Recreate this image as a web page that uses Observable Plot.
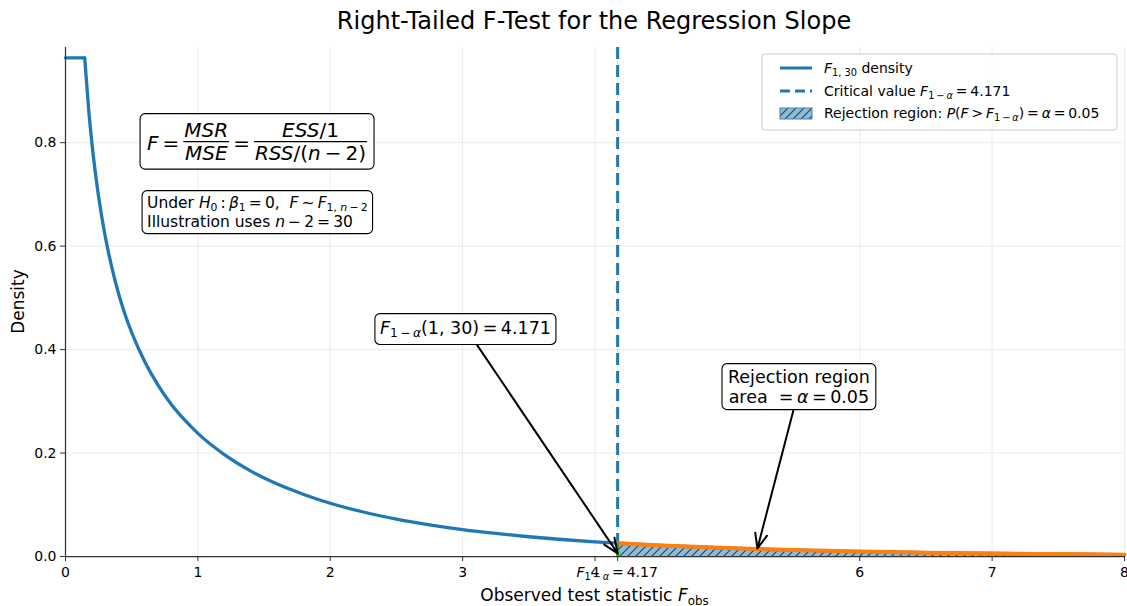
<!DOCTYPE html>
<html><head><meta charset="utf-8">
<script src="https://cdn.jsdelivr.net/npm/d3@7"></script>
<script src="https://cdn.jsdelivr.net/npm/@observablehq/plot@0.6"></script>
<style>
body{margin:0;background:#fff;font-family:"DejaVu Sans",sans-serif;}
#title{width:1066px;padding-left:61px;height:40px;line-height:42px;text-align:center;font-size:24px;color:#000;}
#chart svg{display:block;}
</style></head><body>
<div id="title">Right-Tailed F-Test for the Regression Slope</div>
<div id="chart"></div>
<script>
// ---- data ----
const capX = [0, 0.145];
const capY = [0.964, 0.964];
const densityX = [0.145, 0.175, 0.2, 0.25, 0.3, 0.35, 0.4, 0.45, 0.5, 0.6, 0.7, 0.8, 0.9, 1.0, 1.2, 1.4, 1.6, 1.8, 2.0, 2.25, 2.5, 2.75, 3.0, 3.25, 3.5, 3.75, 4.0, 4.171, 4.5, 5, 5.5, 6, 6.5, 7, 7.5, 8];
const densityY = [0.964, 0.864, 0.798, 0.696, 0.619, 0.559, 0.509, 0.468, 0.433, 0.376, 0.331, 0.294, 0.264, 0.238, 0.197, 0.165, 0.140, 0.120, 0.103, 0.086, 0.0724, 0.0613, 0.0521, 0.0446, 0.0382, 0.0329, 0.0284, 0.0258, 0.0214, 0.0162, 0.0124, 0.0096, 0.0074, 0.0058, 0.0046, 0.0036];
const fCrit = 4.171;
const fCritDensity = 0.0258;
const tailX = [4.171, 4.5, 5, 5.5, 6, 6.5, 7, 7.5, 8];
const tailY = [0.0258, 0.0214, 0.0162, 0.0124, 0.0096, 0.0074, 0.0058, 0.0046, 0.0036];
const xTicks = [0, 1, 2, 3, 4, 4.171, 6, 7, 8];
const xTickLabels = [0, 1, 2, 3, 4, 6, 7, 8];
const yTicks = [0, 0.2, 0.4, 0.6, 0.8];
const xDomain = [0, 8];
const yDomain = [0, 0.984];
// annotation anchors (data coords)
const critLabelPos = [3.025, 0.4415];
const critArrow = {x1: 3.097, y1: 0.4135, x2: 4.171, y2: 0.006};
const rejLabelPos = [5.544, 0.3275];
const rejArrow = {x1: 5.498, y1: 0.282, x2: 5.227, y2: 0.0155};
const formulaPos = [0.62, 0.801];
const h0Pos = [0.62, 0.6657];

const curve = densityX.map((x, i) => ({x, y: densityY[i]}));
const cap = capX.map((x, i) => ({x, y: capY[i]}));
const tail = tailX.map((x, i) => ({x, y: tailY[i]}));

const BLUE = "#1f77b4", ORANGE = "#ff7f0e", GREEN = "#2ca02c";
const FONT = "DejaVu Sans";
const TS = "\u2009"; // thin space

const plot = Plot.plot({
  width: 1127, height: 566,
  marginLeft: 65, marginRight: 3, marginTop: 7, marginBottom: 50,
  x: {domain: xDomain},
  y: {domain: yDomain},
  style: {fontFamily: FONT, fontSize: "14px", color: "#000", background: "#fff", overflow: "visible"},
  marks: [
    Plot.gridX(xTicks, {stroke: "#b0b0b0", strokeOpacity: 0.3, strokeWidth: 0.8}),
    Plot.gridY(yTicks, {stroke: "#b0b0b0", strokeOpacity: 0.3, strokeWidth: 0.8}),
    Plot.areaY(tail, {x: "x", y: "y", fill: "url(#hatch)"}),
    Plot.line(cap, {x: "x", y: "y", stroke: BLUE, strokeWidth: 3.3}),
    Plot.line(curve, {x: "x", y: "y", stroke: BLUE, strokeWidth: 3.3, curve: "monotone-x"}),
    Plot.ruleX([fCrit], {stroke: BLUE, strokeWidth: 3, strokeDasharray: "12,6"}),
    Plot.line(tail, {x: "x", y: "y", stroke: ORANGE, strokeWidth: 4, curve: "monotone-x"}),
    Plot.ruleX([fCrit], {y1: 0, y2: fCritDensity, stroke: GREEN, strokeWidth: 3}),
    Plot.ruleX([0], {stroke: "#333", strokeWidth: 1.25}),
    Plot.ruleY([0], {stroke: "#333", strokeWidth: 1.25}),
    Plot.axisX({ticks: xTicks, tickFormat: () => "", tickSize: 5, label: null, stroke: "#333"}),
    Plot.axisY({ticks: yTicks, tickFormat: () => "", tickSize: 5, label: null, stroke: "#333"}),
    Plot.text(xTickLabels, {x: d => d, y: yDomain[0], text: d => String(d), dy: 16, fontSize: 14, fill: "#000", textAnchor: "middle"}),
    Plot.text(yTicks, {x: xDomain[0], y: d => d, text: d => d3.format(".1f")(d), dx: -9, fontSize: 14, fill: "#000", textAnchor: "end"}),
    Plot.arrow([critArrow, rejArrow], {x1: "x1", y1: "y1", x2: "x2", y2: "y2", stroke: "#000", strokeWidth: 2, headLength: 12, headAngle: 45})
  ]
});
document.getElementById("chart").appendChild(plot);

const svg = d3.select(plot);
const sx = plot.scale("x").apply, sy = plot.scale("y").apply;

// hatch pattern
const defs = svg.insert("defs", ":first-child");
const pat = defs.append("pattern").attr("id", "hatch").attr("patternUnits", "userSpaceOnUse")
  .attr("width", 8).attr("height", 8);
pat.append("rect").attr("width", 8).attr("height", 8).attr("fill", "#8fbbd9");
pat.append("path").attr("d", "M-2,2 L2,-2 M0,8 L8,0 M6,10 L10,6").attr("stroke", "#24435f").attr("stroke-width", 1.1);

function mathLine(parent, x, y, parts, size, anchor = "start") {
  const t = parent.append("text").attr("x", x).attr("y", y)
    .attr("font-size", size).attr("text-anchor", anchor)
    .attr("font-family", FONT).attr("fill", "#000")
    .style("white-space", "pre").style("font-size", size + "px");
  let shift = 0;
  for (const p of parts) {
    const o = typeof p === "string" ? {t: p} : p;
    const target = o.sub ? size * 0.22 : 0;
    const ts = t.append("tspan").text(o.t);
    if (o.i) ts.attr("font-style", "italic");
    if (o.sub) ts.style("font-size", (size * 0.7) + "px");
    if (target !== shift) { ts.attr("dy", target - shift); shift = target; }
  }
  return t;
}
function boxIt(g, padX, padY, stroke = "#000", rx = 5, opacity = 1) {
  const b = g.node().getBBox();
  g.insert("rect", ":first-child")
    .attr("x", b.x - padX).attr("y", b.y - padY)
    .attr("width", b.width + 2 * padX).attr("height", b.height + 2 * padY)
    .attr("rx", rx).attr("fill", "#fff").attr("fill-opacity", opacity)
    .attr("stroke", stroke).attr("stroke-width", 1.1);
}
const I = t => ({t, i: 1});
const S = t => ({t, sub: 1});
const SI = t => ({t, sub: 1, i: 1});

// x-axis special tick label and axis labels
mathLine(svg, sx(fCrit), sy(0) + 21, [I("F"), S("1" + TS + "−" + TS), SI("α"), TS + "=" + TS + "4.17"], 14, "middle");
mathLine(svg, (sx(0) + sx(8)) / 2, sy(0) + 45, ["Observed test statistic ", I("F"), S("obs")], 17, "middle");
svg.append("text").attr("transform", `translate(24,${(sy(0) + sy(yDomain[1])) / 2}) rotate(-90)`)
  .attr("text-anchor", "middle").attr("font-family", FONT).style("font-size", "17px").text("Density");

// critical value annotation
{
  const g = svg.append("g");
  mathLine(g, sx(critLabelPos[0]), sy(critLabelPos[1]) + 6, [I("F"), S("1" + TS + "−" + TS), SI("α"), "(1, 30)" + TS + "=" + TS + "4.171"], 17.5, "middle");
  boxIt(g, 5, 4);
}
// rejection annotation
{
  const g = svg.append("g");
  const cx = sx(rejLabelPos[0]), cy = sy(rejLabelPos[1]);
  mathLine(g, cx, cy - 4, ["Rejection region"], 17.5, "middle");
  mathLine(g, cx, cy + 16, ["area  =" + TS, I("α"), TS + "=" + TS + "0.05"], 17.5, "middle");
  boxIt(g, 6, 3);
}
// H0 box
{
  const g = svg.append("g");
  const x0 = sx(h0Pos[0]), cy = sy(h0Pos[1]);
  mathLine(g, x0, cy - 4, ["Under ", I("H"), S("0"), TS + ":" + TS, I("β"), S("1"), TS + "=" + TS + "0,  ", I("F"), TS + "~" + TS, I("F"), S("1, "), SI("n"), S(TS + "−" + TS + "2")], 15.5, "start");
  mathLine(g, x0, cy + 15, ["Illustration uses ", I("n"), TS + "−" + TS + "2" + TS + "=" + TS + "30"], 15.5, "start");
  boxIt(g, 5, 3);
}
// formula box with fractions
{
  const g = svg.append("g");
  const size = 20;
  let x = sx(formulaPos[0]);
  const bar = sy(formulaPos[1]);
  const base = bar + 8;
  const piece = (parts) => {
    const t = mathLine(g, x, base, parts, size, "start");
    x += t.node().getComputedTextLength();
  };
  const frac = (num, den) => {
    const n = mathLine(g, 0, bar - 5, num, size, "middle");
    const d = mathLine(g, 0, bar + 18.5, den, size, "middle");
    const w = Math.max(n.node().getComputedTextLength(), d.node().getComputedTextLength()) + 2;
    const c = x + w / 2;
    n.attr("x", c); d.attr("x", c);
    g.append("line").attr("x1", x).attr("x2", x + w).attr("y1", bar).attr("y2", bar).attr("stroke", "#000").attr("stroke-width", 1.1);
    x += w;
  };
  piece([I("F"), TS + "=" + TS]);
  frac([I("MSR")], [I("MSE")]);
  piece([TS + "=" + TS]);
  frac([I("ESS"), "/1"], [I("RSS"), "/(", I("n"), TS + "−" + TS + "2)"]);
  boxIt(g, 7, 4);
}
// legend
{
  const lg = svg.append("g");
  const lx = 762, ly = 14, lw = 355, lh = 76;
  lg.append("rect").attr("x", lx).attr("y", ly).attr("width", lw).attr("height", lh)
    .attr("rx", 3).attr("fill", "#fff").attr("fill-opacity", 0.85).attr("stroke", "#cccccc").attr("stroke-width", 1);
  const rows = [ly + 14, ly + 37, ly + 59];
  lg.append("line").attr("x1", lx + 18).attr("x2", lx + 50).attr("y1", rows[0]).attr("y2", rows[0]).attr("stroke", BLUE).attr("stroke-width", 3);
  lg.append("line").attr("x1", lx + 18).attr("x2", lx + 50).attr("y1", rows[1]).attr("y2", rows[1]).attr("stroke", BLUE).attr("stroke-width", 3).attr("stroke-dasharray", "10,5");
  lg.append("rect").attr("x", lx + 18).attr("y", rows[2] - 5).attr("width", 32).attr("height", 11)
    .attr("fill", "url(#hatch)").attr("stroke", "#4a7fa8").attr("stroke-width", 1);
  const LS = 14;
  mathLine(lg, lx + 62, rows[0] + 5, [I("F"), S("1, 30"), " density"], LS);
  mathLine(lg, lx + 62, rows[1] + 5, ["Critical value ", I("F"), S("1" + TS + "−" + TS), SI("α"), TS + "=" + TS + "4.171"], LS);
  mathLine(lg, lx + 62, rows[2] + 5, ["Rejection region: ", I("P"), "(", I("F"), TS + ">" + TS, I("F"), S("1" + TS + "−" + TS), SI("α"), ")" + TS + "=" + TS, I("α"), TS + "=" + TS + "0.05"], LS);
}
</script>
</body></html>
